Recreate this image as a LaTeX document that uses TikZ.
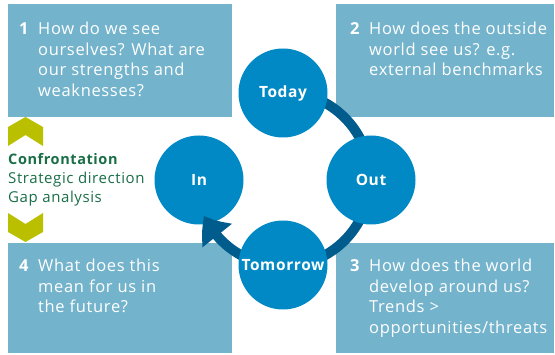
\documentclass[tikz,border=0pt]{standalone}
\usepackage{fontspec}
\setmainfont{Open Sans}[LetterSpace=4]
\usetikzlibrary{arrows.meta,bending}
\definecolor{boxblue}{RGB}{115,179,204}
\definecolor{circblue}{RGB}{0,137,196}
\definecolor{arcblue}{RGB}{0,92,140}
\definecolor{chev}{RGB}{186,192,0}
\definecolor{tgreen}{RGB}{25,110,70}
\begin{document}
\begin{tikzpicture}[x=1pt,y=1pt,
  qbox/.style={fill=boxblue, draw=none, inner sep=0, outer sep=0, anchor=north west},
  qnum/.style={anchor=base west, inner sep=0, text=white, font=\fontsize{16.5}{20.5}\selectfont\bfseries},
  qtext/.style={anchor=base west, inner sep=0, text=white, font=\fontsize{16.5}{20.5}\selectfont},
  stage/.style={circle, fill=circblue, minimum size=89pt, inner sep=0, text=white, font=\fontsize{15.5}{18}\selectfont\bfseries},
  chevron/.style={fill=chev, draw=none},
  cycarrow/.style={draw=arcblue, line width=10pt, -{Triangle[width=36pt,length=24pt,bend]}}]
\useasboundingbox (0,0) rectangle (555,354);
% question boxes
\node[qbox, minimum width=223.5pt, minimum height=113pt] (box1) at (8,350) {};
\node[qbox, minimum width=218pt, minimum height=113pt] (box2) at (336,350) {};
\node[qbox, minimum width=218pt, minimum height=110pt] (box3) at (336,111) {};
\node[qbox, minimum width=223.5pt, minimum height=110pt] (box4) at (8,111) {};
% texts
\node[qnum] (n1) at (19,319) {1};
\node[qtext] (t1) at (38,319) {\vtop{\hbox{How do we see}\hbox{ourselves? What are}\hbox{our strengths and}\hbox{weaknesses?}}};
\node[qnum] (n2) at (350,319) {2};
\node[qtext] (t2) at (369,319) {\vtop{\hbox{How does the outside}\hbox{world see us? e.g.}\hbox{external benchmarks}}};
\node[qnum] (n3) at (350,82) {3};
\node[qtext] (t3) at (369,82) {\vtop{\hbox{How does the world}\hbox{develop around us?}\hbox{Trends >}\hbox{opportunities/threats}}};
\node[qnum] (n4) at (19,82) {4};
\node[qtext] (t4) at (38,82) {\vtop{\hbox{What does this}\hbox{mean for us in}\hbox{the future?}}};
% chevrons
\fill[chevron] (8,208) -- (8,227) -- (25.5,237) -- (43,227) -- (43,208) -- (25.5,219) -- cycle;
\fill[chevron] (8,141) -- (25.5,130) -- (43,141) -- (43,122) -- (25.5,112) -- (8,122) -- cycle;
\node[anchor=base west, inner sep=0, text=tgreen, font=\fontsize{15}{19}\selectfont] (conf) at (8,189)
  {\vtop{\hbox{\fontsize{14.5}{19}\selectfont\bfseries Confrontation}\hbox{Strategic direction}\hbox{Gap analysis}}};
% cycle
\coordinate (ring) at (283,175);
\node[stage] (in) at (199,174) {In};
\draw[cycarrow] (ring) ++(90:87) arc[start angle=90, end angle=-155, radius=87];
\node[stage] (today) at (283,261) {Today};
\node[stage] (out) at (371,174) {Out};
\node[stage] (tomorrow) at (283,89) {Tomorrow};
\end{tikzpicture}
\end{document}
